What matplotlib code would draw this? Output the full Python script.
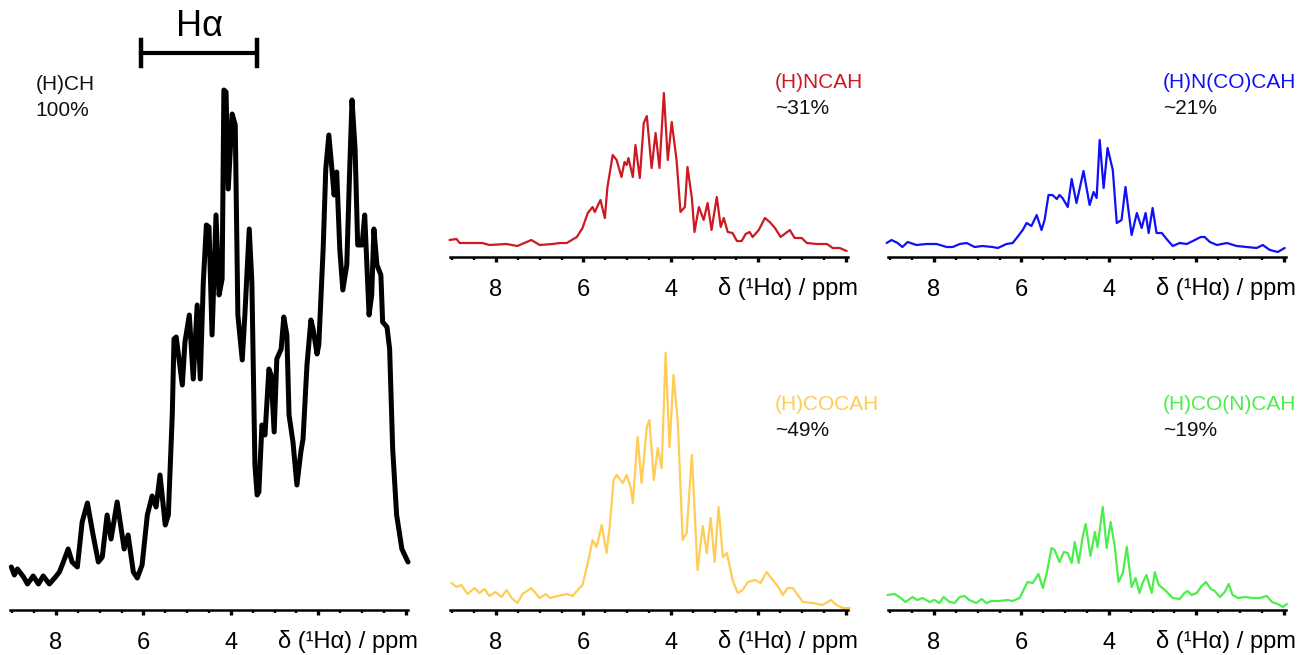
import matplotlib
matplotlib.use("Agg")
import matplotlib.pyplot as plt
from matplotlib.ticker import MultipleLocator

plt.rcParams["font.family"] = ["Liberation Sans", "DejaVu Sans"]

# chemical shift (ppm) and intensity (a.u.)
hch_ppm = [9.02, 8.95, 8.88, 8.74, 8.65, 8.52, 8.40, 8.29, 8.15, 8.01, 7.92, 7.83, 7.72, 7.63, 7.51,
           7.40, 7.28, 7.15, 7.03, 6.94, 6.83, 6.74, 6.60, 6.48, 6.44, 6.35, 6.23, 6.14, 6.03, 5.91,
           5.80, 5.71, 5.62, 5.50, 5.43, 5.34, 5.30, 5.25, 5.11, 5.05, 4.95, 4.86, 4.77, 4.70, 4.63,
           4.56, 4.50, 4.43, 4.34, 4.27, 4.20, 4.16, 4.11, 4.06, 3.97, 3.90, 3.84, 3.74, 3.68, 3.58,
           3.52, 3.45, 3.40, 3.36, 3.29, 3.22, 3.13, 3.08, 3.01, 2.95, 2.85, 2.79, 2.72, 2.67, 2.58,
           2.49, 2.40, 2.35, 2.26, 2.17, 2.12, 2.03, 1.99, 1.89, 1.83, 1.76, 1.69, 1.64, 1.58, 1.51,
           1.44, 1.35, 1.28, 1.23, 1.16, 1.10, 1.00, 0.94, 0.84, 0.78, 0.73, 0.66, 0.57, 0.53, 0.43,
           0.37, 0.30, 0.21, 0.09, -0.05]
hch_int = [43, 35, 41, 33, 26, 34, 26, 34, 26, 33, 38, 48, 61, 48, 43,
           88, 107, 75, 48, 53, 95, 71, 108, 73, 61, 75, 38, 32, 45, 95,
           114, 103, 135, 85, 95, 195, 271, 273, 225, 268, 295, 231, 305, 231, 328,
           385, 383, 275, 395, 315, 331, 520, 518, 421, 496, 485, 295, 250, 295, 381,
           328, 145, 115, 118, 185, 175, 241, 235, 178, 251, 261, 293, 275, 195, 168,
           125, 158, 171, 245, 290, 281, 256, 265, 361, 441, 475, 441, 415, 438, 361,
           320, 345, 445, 510, 461, 365, 365, 395, 295, 315, 381, 345, 335, 288, 283,
           261, 161, 95, 61, 48]

ncah_ppm = [9.06, 8.90, 8.83, 8.54, 8.31, 8.15, 7.76, 7.51, 7.19, 7.00, 6.70, 6.54, 6.38, 6.15, 6.02,
            5.90, 5.79, 5.74, 5.61, 5.51, 5.45, 5.33, 5.24, 5.13, 5.06, 5.01, 4.97, 4.87, 4.81, 4.71,
            4.62, 4.55, 4.44, 4.35, 4.26, 4.16, 4.07, 3.98, 3.87, 3.78, 3.68, 3.62, 3.52, 3.46, 3.36,
            3.25, 3.16, 3.07, 2.95, 2.86, 2.79, 2.70, 2.59, 2.49, 2.38, 2.29, 2.20, 2.13, 1.99, 1.85,
            1.74, 1.62, 1.49, 1.40, 1.28, 1.17, 1.01, 0.89, 0.66, 0.43, 0.30, 0.14, -0.02]
ncah_int = [17, 18, 14, 14, 14, 12, 13, 11, 17, 12, 13, 14, 14, 20, 29,
            44, 50, 45, 57, 39, 70, 102, 97, 80, 95, 92, 99, 80, 112, 79,
            134, 141, 89, 124, 89, 164, 97, 135, 97, 45, 50, 90, 59, 25, 50,
            37, 54, 27, 60, 30, 39, 25, 24, 16, 16, 23, 25, 20, 27, 39,
            35, 29, 20, 23, 27, 19, 19, 14, 13, 13, 9, 9, 6]

ncocah_ppm = [9.08, 8.97, 8.83, 8.72, 8.60, 8.40, 8.17, 7.94, 7.71, 7.57, 7.41, 7.25, 7.07, 6.89, 6.66,
              6.54, 6.34, 6.20, 6.09, 5.97, 5.88, 5.77, 5.65, 5.54, 5.47, 5.38, 5.29, 5.19, 5.13, 5.06,
              4.94, 4.85, 4.74, 4.58, 4.44, 4.35, 4.28, 4.21, 4.12, 4.03, 3.91, 3.82, 3.71, 3.62, 3.48,
              3.36, 3.25, 3.16, 3.09, 3.00, 2.91, 2.79, 2.68, 2.54, 2.38, 2.22, 2.08, 1.90, 1.81, 1.69,
              1.53, 1.30, 1.08, 0.85, 0.62, 0.48, 0.32, 0.14, -0.02]
ncocah_int = [14, 17, 14, 10, 15, 12, 13, 13, 10, 10, 13, 14, 10, 11, 10,
              9, 13, 14, 20, 27, 34, 31, 42, 27, 37, 62, 62, 58, 62, 59,
              50, 78, 54, 86, 52, 65, 59, 117, 69, 109, 87, 34, 37, 70, 22,
              44, 29, 44, 24, 49, 24, 24, 18, 11, 14, 13, 16, 20, 20, 15,
              12, 14, 11, 10, 9, 12, 7, 5, 9]

cocah_ppm = [9.02, 8.90, 8.79, 8.65, 8.49, 8.38, 8.26, 8.15, 8.01, 7.87, 7.76, 7.64, 7.51, 7.39, 7.19,
             7.00, 6.86, 6.77, 6.59, 6.38, 6.25, 6.13, 6.02, 5.90, 5.79, 5.70, 5.58, 5.47, 5.40, 5.31,
             5.24, 5.10, 5.01, 4.92, 4.87, 4.76, 4.67, 4.55, 4.49, 4.39, 4.30, 4.21, 4.12, 4.03, 3.94,
             3.84, 3.73, 3.64, 3.52, 3.39, 3.27, 3.18, 3.09, 3.00, 2.91, 2.81, 2.72, 2.65, 2.59, 2.47,
             2.36, 2.24, 2.08, 1.95, 1.81, 1.67, 1.56, 1.44, 1.33, 1.21, 1.10, 0.98, 0.76, 0.53, 0.34,
             0.21, 0.07, -0.09]
cocah_int = [27, 23, 25, 16, 22, 17, 21, 14, 18, 13, 20, 12, 7, 16, 22,
             12, 16, 12, 14, 16, 14, 20, 25, 47, 70, 63, 85, 57, 83, 130,
             135, 127, 135, 123, 107, 173, 127, 183, 190, 130, 162, 142, 257, 163, 235,
             187, 70, 77, 155, 40, 84, 57, 92, 48, 103, 53, 57, 43, 30, 17,
             20, 28, 30, 27, 38, 30, 24, 15, 22, 22, 15, 8, 7, 5, 10,
             5, 2, 2]

conca_ppm = [9.06, 8.90, 8.79, 8.65, 8.49, 8.38, 8.26, 8.10, 7.99, 7.87, 7.78, 7.64, 7.53, 7.41, 7.30,
             7.19, 7.03, 6.91, 6.80, 6.68, 6.50, 6.32, 6.20, 6.04, 5.95, 5.86, 5.74, 5.61, 5.51, 5.42,
             5.31, 5.24, 5.13, 5.03, 4.94, 4.85, 4.78, 4.69, 4.60, 4.53, 4.42, 4.32, 4.26, 4.14, 4.05,
             3.96, 3.87, 3.78, 3.68, 3.59, 3.48, 3.39, 3.30, 3.23, 3.14, 3.02, 2.95, 2.86, 2.72, 2.54,
             2.38, 2.27, 2.20, 2.11, 1.99, 1.88, 1.78, 1.67, 1.58, 1.46, 1.35, 1.26, 1.17, 1.05, 0.89,
             0.73, 0.55, 0.39, 0.27, 0.14, 0.02, -0.07]
conca_int = [15, 16, 13, 8, 13, 10, 12, 8, 10, 7, 13, 8, 7, 13, 14,
             10, 7, 11, 7, 9, 9, 10, 9, 12, 20, 28, 27, 36, 22, 37,
             62, 60, 48, 58, 57, 47, 68, 47, 73, 86, 54, 78, 63, 103, 62,
             88, 65, 28, 37, 63, 23, 32, 17, 27, 35, 17, 38, 25, 20, 12,
             11, 17, 19, 15, 17, 24, 28, 21, 19, 13, 18, 26, 15, 12, 13,
             12, 12, 14, 8, 6, 3, 6]

HA_RANGE = (6.05, 3.40)

# panel: (ppm, intensity, colour, name, percentage)
PANELS = {
    "hch": (hch_ppm, hch_int, "black", "(H)CH", "100%"),
    "ncah": (ncah_ppm, ncah_int, "#cc1a22", "(H)NCAH", "~31%"),
    "ncocah": (ncocah_ppm, ncocah_int, "#1010f8", "(H)N(CO)CAH", "~21%"),
    "cocah": (cocah_ppm, cocah_int, "#ffcc55", "(H)COCAH", "~49%"),
    "conca": (conca_ppm, conca_int, "#4cee4c", "(H)CO(N)CAH", "~19%"),
}

W, H = 1302, 655
fig = plt.figure(figsize=(W / 100, H / 100), dpi=100, facecolor="white")


def make_axes(x0, y_axis, y_top):
    # pixel geometry -> figure fractions, 1 intensity unit = 1 px
    ax = fig.add_axes([x0 / W, (H - y_axis) / H, 398 / W, (y_axis - y_top) / H])
    ax.set_xlim(9.05, -0.05)
    ax.set_ylim(0, y_axis - y_top)
    for s in ("left", "top", "right"):
        ax.spines[s].set_visible(False)
    ax.spines["bottom"].set_linewidth(1.8)
    ax.set_yticks([])
    ax.set_xticks([8, 6, 4, 2, 0])
    ax.set_xticklabels(["8", "6", "4", "", ""])
    ax.xaxis.set_minor_locator(MultipleLocator(0.5))
    ax.tick_params(axis="x", which="major", direction="out", length=3.5, width=2.4,
                   labelsize=17, pad=12)
    ax.tick_params(axis="x", which="minor", direction="out", length=2.2, width=1.7)
    ax.patch.set_alpha(0)
    ax.annotate("δ (¹Hα) / ppm", xy=(1.33, 0), xycoords=("data", "axes fraction"),
                xytext=(0, -23), textcoords="offset points", ha="center", va="center",
                fontsize=17)
    return ax


def draw(ax, key, lw, tx, ty1, ty2):
    ppm, inten, color, name, pct = PANELS[key]
    ax.plot(ppm, inten, color=color, lw=lw, clip_on=False,
            solid_joinstyle="round", solid_capstyle="round")
    ax.text(tx, ty1, name, color=color if key != "hch" else "#111111", fontsize=15,
            ha="left", va="center")
    ax.text(tx, ty2, pct, color="#111111", fontsize=15, ha="left", va="center")


ax0 = make_axes(10, 610, 10)
draw(ax0, "hch", 3.6, 8.47, 525, 500)
# H-alpha region bar
ax0.plot(list(HA_RANGE), [557, 557], color="black", lw=3.0, clip_on=False)
for x in HA_RANGE:
    ax0.plot([x, x], [544, 570], color="black", lw=3.2, clip_on=False)
ax0.text(sum(HA_RANGE) / 2, 584, "Hα", fontsize=26, ha="center", va="center")

ax1 = make_axes(450, 257, 50)
draw(ax1, "ncah", 1.6, 1.62, 174, 148)

ax2 = make_axes(888, 257, 50)
draw(ax2, "ncocah", 1.6, 2.77, 174, 148)

ax3 = make_axes(450, 610, 330)
draw(ax3, "cocah", 1.6, 1.62, 205, 179)

ax4 = make_axes(888, 610, 330)
draw(ax4, "conca", 1.6, 2.77, 205, 179)

fig.savefig("out.png", dpi=100)
